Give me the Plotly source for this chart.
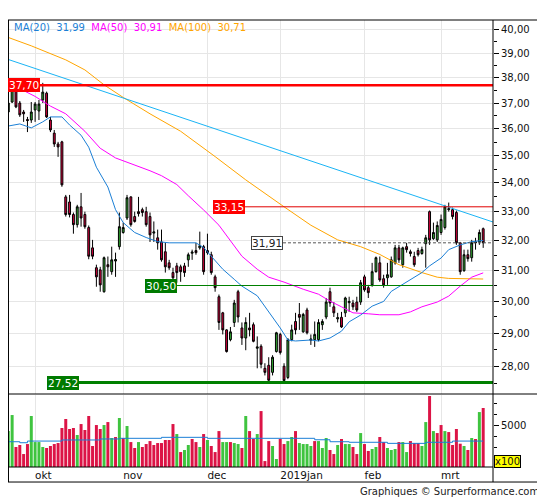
import math
import pandas as pd
import plotly.graph_objects as go

# ---------------- data ----------------
holidays = ["2018-12-25", "2018-12-26", "2019-01-01"]
_d = pd.bdate_range("2018-09-20", "2019-03-18")
_d = _d[~_d.isin(pd.to_datetime(holidays))]
dates = [d.strftime("%Y-%m-%d") for d in _d]

open_ = [36.65, 37.04, 37.51, 37.00, 36.65, 36.36, 36.34, 36.73, 36.69, 37.12,
         37.39, 36.34, 35.84, 35.43, 35.51, 33.50, 33.32, 32.88, 32.53, 33.15,
         32.88, 32.43, 31.74, 31.08, 31.01, 30.30, 31.18, 30.95, 31.30, 31.78,
         32.26, 32.76, 33.50, 32.81, 32.98, 33.05, 32.98, 32.81, 32.24, 32.08,
         31.94, 31.61, 31.24, 30.92, 31.14, 31.11, 31.14, 31.34, 31.56, 31.65,
         31.74, 31.78, 31.65, 31.51, 30.78, 30.14, 29.63, 29.10, 28.80, 29.33,
         30.30, 29.16, 28.85, 29.16, 29.26, 28.54, 28.60, 27.94, 28.03, 27.82,
         28.44, 28.96, 28.00, 27.67, 28.80, 29.36, 29.58, 29.04, 29.72, 28.78,
         28.80, 28.80, 29.26, 29.50, 30.30, 29.82, 29.44, 29.49, 29.63, 29.95,
         29.94, 29.97, 29.97, 30.78, 30.43, 30.52, 30.95, 31.24, 30.72, 30.75,
         30.78, 31.24, 31.74, 31.18, 31.78, 31.61, 31.45, 31.65, 31.55, 31.88,
         32.98, 32.05, 32.01, 32.26, 32.43, 33.05, 33.05, 32.95, 31.91, 30.98,
         31.51, 31.41, 31.91, 31.94, 32.39]
high = [37.12, 37.59, 37.59, 37.08, 36.73, 36.46, 37.04, 37.04, 37.12, 37.80,
        37.45, 36.46, 35.96, 35.51, 35.55, 33.57, 33.57, 32.95, 33.22, 33.64,
        32.98, 32.50, 32.01, 31.18, 31.11, 31.45, 31.45, 31.78, 31.58, 32.95,
        32.60, 33.57, 33.52, 32.98, 33.50, 33.12, 33.15, 32.95, 32.64, 32.36,
        32.36, 31.91, 31.34, 31.08, 31.24, 31.18, 31.24, 31.58, 31.68, 31.91,
        32.29, 31.84, 32.22, 31.61, 30.85, 30.21, 29.66, 29.12, 29.19, 30.04,
        30.36, 29.33, 29.49, 29.63, 29.33, 28.90, 28.66, 28.09, 28.27, 28.33,
        29.04, 29.01, 28.09, 28.85, 29.26, 29.63, 29.94, 29.63, 29.79, 28.96,
        29.36, 29.43, 29.43, 30.10, 30.43, 29.97, 29.63, 29.66, 30.14, 30.14,
        30.04, 30.14, 30.68, 30.85, 30.52, 31.24, 31.45, 31.45, 30.85, 31.24,
        31.45, 31.84, 31.84, 31.78, 31.91, 31.68, 31.61, 31.74, 31.78, 32.18,
        33.02, 32.60, 32.64, 32.88, 33.22, 33.30, 33.12, 33.02, 31.94, 31.68,
        31.68, 32.01, 32.08, 32.36, 32.43]
low = [36.61, 37.00, 36.80, 36.46, 36.27, 35.88, 36.23, 36.27, 36.34, 37.00,
       36.42, 35.88, 35.32, 34.95, 33.86, 32.81, 32.78, 32.22, 32.43, 32.46,
       32.39, 31.36, 31.36, 30.46, 30.30, 30.27, 30.78, 30.85, 30.78, 31.68,
       32.22, 32.69, 32.46, 32.60, 32.81, 32.81, 32.46, 31.94, 31.94, 31.68,
       31.28, 30.92, 31.01, 30.62, 30.59, 30.62, 30.78, 31.11, 31.34, 31.51,
       31.68, 30.85, 31.51, 30.85, 30.30, 29.10, 28.96, 28.41, 28.75, 29.19,
       29.33, 28.64, 28.48, 28.90, 28.72, 27.94, 27.94, 27.73, 27.52, 27.73,
       28.41, 28.35, 27.55, 27.62, 28.75, 28.96, 29.10, 29.01, 28.96, 28.64,
       28.58, 28.75, 29.10, 29.43, 29.82, 29.50, 29.33, 29.16, 29.50, 29.66,
       29.72, 29.66, 29.88, 30.30, 30.10, 30.46, 30.92, 30.62, 30.43, 30.52,
       30.75, 31.18, 31.24, 31.08, 31.58, 31.45, 31.11, 31.45, 31.51, 31.08,
       31.84, 32.01, 31.94, 32.18, 32.36, 32.98, 32.71, 31.84, 30.85, 30.95,
       31.28, 31.28, 31.68, 31.84, 31.74]
close = [37.00, 37.51, 36.85, 36.54, 36.58, 36.32, 36.65, 36.96, 36.96, 37.43,
         36.46, 35.96, 35.43, 35.32, 33.93, 32.88, 32.88, 32.53, 33.15, 32.76,
         32.46, 31.46, 31.46, 30.78, 30.52, 31.41, 31.11, 31.34, 31.35, 32.46,
         32.43, 33.47, 32.53, 32.64, 32.91, 32.95, 32.53, 32.18, 32.28, 31.91,
         31.34, 31.11, 31.08, 30.75, 30.92, 30.95, 30.92, 31.51, 31.60, 31.58,
         31.81, 30.95, 31.58, 30.92, 30.43, 29.33, 29.10, 28.44, 29.04, 29.94,
         29.50, 28.85, 29.33, 29.10, 28.75, 28.58, 28.06, 27.82, 27.59, 28.27,
         29.01, 28.41, 27.58, 28.80, 29.10, 29.10, 29.49, 29.58, 29.01, 28.82,
         28.96, 29.33, 29.36, 29.97, 29.94, 29.63, 29.48, 29.19, 30.10, 29.99,
         29.82, 29.72, 30.59, 30.36, 30.27, 30.95, 31.41, 30.68, 30.52, 30.85,
         31.34, 31.74, 31.34, 31.74, 31.68, 31.55, 31.18, 31.51, 31.68, 32.08,
         32.01, 32.26, 32.50, 32.71, 33.15, 33.08, 32.81, 31.91, 30.95, 31.51,
         31.38, 31.91, 31.94, 32.26, 31.91]

volume = [4450, 5910, 3000, 3180, 2360, 3270, 5820, 3450, 3450, 3000,
          2910, 3090, 3270, 3360, 4730, 5550, 4640, 4730, 4090, 5090,
          4550, 5820, 3090, 5000, 4640, 5000, 5270, 3820, 3910, 5640,
          3820, 4910, 3450, 2910, 3450, 3000, 3270, 3540, 3180, 3360,
          3360, 3640, 3640, 5090, 4180, 2540, 2730, 3180, 3730, 3450,
          3000, 4180, 3640, 3090, 2540, 4450, 3450, 3450, 3450, 3360,
          3270, 2910, 5820, 4450, 3730, 4180, 6270, 1720, 3540, 3090,
          1910, 3730, 3270, 3540, 3910, 4450, 3360, 3270, 3270, 3090,
          3540, 3540, 2910, 3820, 2730, 2360, 3180, 3730, 3270, 3270,
          3000, 2360, 4270, 3270, 2640, 2820, 3000, 3910, 3450, 2910,
          2730, 2820, 3450, 3450, 2540, 3540, 3360, 3360, 3090, 5270,
          7640, 4450, 4270, 5000, 4450, 4360, 3180, 4640, 3300, 3090,
          2730, 3820, 3730, 6180, 6550]
# direction of each volume bar as coloured in the picture (G = up, R = down)
volume_dir = ("GGRRRRGGGG" "RRRRRRRRGR" "RRRRRGRGRG" "RGRRGRRRRR" "RRRRGRGGRR"
              "GRGRRRGGRG" "GRGRRGRRRG" "GRRGGRGGGG" "RGGGRRGRGG" "RRGRRGGRRG"
              "GGRGGRRRGG" "RGRRGRRRRG" "RGRGR")

volume_ma_idx = [0, 3, 5, 14, 24, 29, 40, 52, 80, 84, 89, 99, 109, 116, 124]
volume_ma_val = [3480, 3390, 3540, 3640, 3730, 3790, 3880, 3790, 3660, 3480,
                 3430, 3330, 3430, 3540, 3540]

ma20_idx = [0, 3, 6, 9, 11, 14, 16, 19, 21, 23, 26, 28, 30, 33, 36, 39, 42, 49,
            51, 53, 56, 59, 61, 65, 68, 71, 73, 75, 79, 81, 84, 87, 89, 92, 95,
            98, 100, 104, 108, 110, 113, 115, 118, 121, 124]
ma20_val = [36.11, 36.19, 36.04, 36.27, 36.46, 36.46, 36.15, 35.76, 35.31, 34.57,
            33.85, 33.05, 32.60, 32.26, 32.09, 31.95, 31.91, 31.91, 31.75, 31.45,
            31.03, 30.70, 30.48, 30.17, 29.67, 29.16, 28.79, 28.76, 28.79, 28.76,
            28.85, 29.06, 29.35, 29.56, 29.84, 29.99, 30.31, 30.61, 30.92, 31.14,
            31.40, 31.68, 31.84, 31.95, 31.99]
ma50_idx = [0, 1, 7, 11, 15, 20, 24, 28, 33, 37, 40, 44, 47, 51, 55, 58, 61, 65,
            68, 72, 74, 77, 81, 84, 87, 90, 94, 97, 102, 105, 108, 112, 115, 118,
            121, 124]
ma50_val = [37.80, 37.72, 37.26, 36.88, 36.58, 35.91, 35.27, 34.91, 34.65, 34.44,
            34.26, 33.94, 33.54, 33.04, 32.51, 31.98, 31.46, 31.03, 30.77, 30.61,
            30.51, 30.38, 30.22, 30.00, 29.82, 29.63, 29.60, 29.57, 29.57, 29.66,
            29.82, 29.97, 30.16, 30.48, 30.77, 30.91]
ma100_idx = [0, 6, 15, 20, 25, 30, 37, 45, 54, 62, 72, 79, 86, 92, 97, 102, 108,
             112, 115, 120, 124]
ma100_val = [39.66, 39.31, 38.73, 38.32, 37.72, 37.22, 36.58, 35.91, 34.96, 34.11,
             33.15, 32.51, 32.01, 31.78, 31.52, 31.18, 30.92, 30.77, 30.73, 30.71,
             30.71]

trend_prices = [38.75, 32.62]          # trendline at left and right edges

level_values = [37.70, 33.15, 31.91, 30.50, 27.52]
level_labels = ["37,70", "33,15", "31,91", "30,50", "27,52"]

month_labels = ["okt", "nov", "dec", "2019jan", "feb", "mrt"]
price_ticks = [28, 29, 30, 31, 32, 33, 34, 35, 36, 37, 38, 39, 40]
price_minor = [27.5, 28.5, 29.5, 30.5, 31.5, 32.5, 33.5, 34.5, 35.5, 36.5, 37.5, 38.5, 39.5]
volume_ticks = [5000]
volume_minor = [2000, 3000, 4000, 6000, 7000]

# ---------------- styling ----------------
GREEN = "#33ad33"
RED = "#d8003c"
VGREEN = "#3fc43f"
VRED = "#dc1446"
C20 = "#1b7fd6"
C50 = "#ff00ff"
C100 = "#ffa500"
CTREND = "#1ab4f5"
GRID = "#e6e6e6"
FONT = "DejaVu Sans"

def fr(v):
    return f"{v:.2f}".replace(".", ",")

month_starts = []
prev = dates[0][:7]
for d in dates[1:]:
    if d[:7] != prev:
        month_starts.append(d)
        prev = d[:7]

fig = go.Figure()

# volume
fig.add_trace(go.Bar(
    x=dates, y=volume, xaxis="x2", yaxis="y2",
    marker=dict(color=[VGREEN if c == "G" else VRED for c in volume_dir], line=dict(width=0)),
    hoverinfo="skip"))
fig.add_trace(go.Scatter(
    x=[dates[i] for i in volume_ma_idx], y=volume_ma_val, xaxis="x2", yaxis="y2",
    mode="lines", line=dict(color=C20, width=1, shape="hv"), hoverinfo="skip"))

# moving averages
for idx, val, col in [(ma100_idx, ma100_val, C100), (ma50_idx, ma50_val, C50), (ma20_idx, ma20_val, C20)]:
    fig.add_trace(go.Scatter(x=[dates[i] for i in idx], y=val, mode="lines",
                             line=dict(color=col, width=1), xaxis="x", yaxis="y",
                             hoverinfo="skip"))

# candles
fig.add_trace(go.Candlestick(
    x=dates, open=open_, high=high, low=low, close=close, xaxis="x", yaxis="y",
    increasing=dict(line=dict(color="black", width=1), fillcolor=GREEN),
    decreasing=dict(line=dict(color="black", width=1), fillcolor=RED),
    whiskerwidth=0, hoverinfo="skip"))

# trendline + horizontal levels on an overlay axis spanning the plot width
fig.add_trace(go.Scatter(x=[0, 1], y=trend_prices, xaxis="x3", yaxis="y", mode="lines",
                         line=dict(color=CTREND, width=1), hoverinfo="skip"))
level_start = [0.0, 0.4887, 0.567, 0.3485, 0.1464]
level_color = ["#ff0000", "#e00000", "#555555", "#008000", "#008000"]
level_width = [2.5, 1, 1, 1.2, 3]
level_dash = ["solid", "solid", "3px,2px", "solid", "solid"]
label_bg = ["#ff0000", "#ff0000", "white", "#007a00", "#007a00"]
label_fg = ["white", "white", "#222222", "white", "white"]
label_border = ["#ff0000", "#ff0000", "#444444", "#007a00", "#007a00"]
label_x = [0.0, 0.4887, 0.567, 0.3485, 0.1464]
label_anchor = ["left", "right", "right", "right", "right"]

annotations = []
for k, v in enumerate(level_values):
    fig.add_trace(go.Scatter(x=[level_start[k], 1], y=[v, v], xaxis="x3", yaxis="y",
                             mode="lines", hoverinfo="skip",
                             line=dict(color=level_color[k], width=level_width[k], dash=level_dash[k])))
    annotations.append(dict(
        xref="paper", yref="y", x=label_x[k], y=math.log10(v), xanchor=label_anchor[k],
        yanchor="middle", text=level_labels[k], showarrow=False,
        font=dict(family=FONT, size=10.5, color=label_fg[k]),
        bgcolor=label_bg[k], bordercolor=label_border[k], borderwidth=1, borderpad=0))

legend_text = (f"<span style='color:{C20}'>MA(20)\u00a0\u00a0{fr(ma20_val[-1])}</span>\u00a0\u00a0"
               f"<span style='color:{C50}'>MA(50)\u00a0\u00a0{fr(ma50_val[-1])}</span>\u00a0\u00a0"
               f"<span style='color:{C100}'>MA(100)\u00a0\u00a0{fr(ma100_val[-1])}</span>")
annotations.append(dict(xref="paper", yref="paper", x=0.00825, y=0.984, xanchor="left",
                        yanchor="middle", text=legend_text, showarrow=False,
                        font=dict(family=FONT, size=10)))
annotations.append(dict(xref="paper", yref="paper", x=1.099, y=-0.0537, xanchor="right",
                        yanchor="middle", text="Graphiques © Surperformance.com",
                        showarrow=False, font=dict(family=FONT, size=10, color="#222222")))
annotations.append(dict(xref="paper", yref="paper", x=1.002, y=0.0112, xanchor="left",
                        yanchor="middle", text="x100", showarrow=False,
                        font=dict(family=FONT, size=10, color="#111111"),
                        bgcolor="#ffff00", bordercolor="black", borderwidth=1, borderpad=0))

YB = -0.0336   # bottom of date strip
YS = 0.1633    # panel separator
XR = 1.1052    # outer right edge
line = dict(color="black", width=1)
shapes = [
    dict(type="line", xref="paper", yref="paper", x0=0.001, x1=0.001, y0=YB, y1=1, line=line),
    dict(type="line", xref="paper", yref="paper", x0=1, x1=1, y0=YB, y1=1, line=line),
    dict(type="line", xref="paper", yref="paper", x0=XR, x1=XR, y0=YB, y1=1, line=line),
    dict(type="line", xref="paper", yref="paper", x0=0, x1=XR, y0=1, y1=1, line=line),
    dict(type="line", xref="paper", yref="paper", x0=0, x1=XR, y0=YB, y1=YB, line=line),
    dict(type="line", xref="paper", yref="paper", x0=0, x1=XR, y0=YS, y1=YS, line=line),
    dict(type="line", xref="paper", yref="paper", x0=0, x1=1, y0=0, y1=0, line=line),
]

price_range = [math.log10(27.19), math.log10(40.40)]

# the page body keeps an 8px margin, so the figure is 8px smaller than the window
fig.update_layout(
    width=537, height=492, margin=dict(l=0, r=52, t=12, b=33),
    paper_bgcolor="white", plot_bgcolor="white", showlegend=False, bargap=0.22,
    font=dict(family=FONT, size=10, color="#111111"),
    xaxis=dict(type="category", range=[-0.08, 126.56], anchor="y", tickvals=month_starts,
               showticklabels=False, showgrid=True, gridcolor=GRID, gridwidth=1, ticks="",
               rangeslider=dict(visible=False), showline=False, zeroline=False),
    xaxis2=dict(type="category", matches="x", anchor="y2", tickvals=month_starts,
                ticktext=month_labels, ticklabelposition="outside right", showgrid=True,
                gridcolor=GRID, ticks="", showline=False, zeroline=False,
                tickfont=dict(family=FONT, size=10.5, color="#111111")),
    xaxis3=dict(overlaying="x", range=[0, 1], visible=False, anchor="y"),
    yaxis=dict(type="log", domain=[YS, 1], side="right", anchor="x", range=price_range,
               tickvals=price_ticks, ticktext=[fr(t) for t in price_ticks],
               ticks="outside", ticklen=5, tickcolor="black", showgrid=True,
               gridcolor=GRID, zeroline=False, showline=False,
               minor=dict(tickvals=price_minor, ticks="outside", ticklen=3,
                          tickcolor="black", showgrid=False),
               tickfont=dict(family=FONT, size=10, color="#111111")),
    yaxis2=dict(domain=[0, 0.161], side="right", anchor="x2", range=[1180, 7730],
                tickvals=volume_ticks, ticktext=[str(t) for t in volume_ticks],
                ticks="outside", ticklen=5, tickcolor="black", showgrid=False,
                zeroline=False, showline=False,
                minor=dict(tickvals=volume_minor, ticks="outside", ticklen=3,
                           tickcolor="black", showgrid=False),
                tickfont=dict(family=FONT, size=10, color="#111111")),
    annotations=annotations, shapes=shapes,
)

fig.write_html("out.html")
